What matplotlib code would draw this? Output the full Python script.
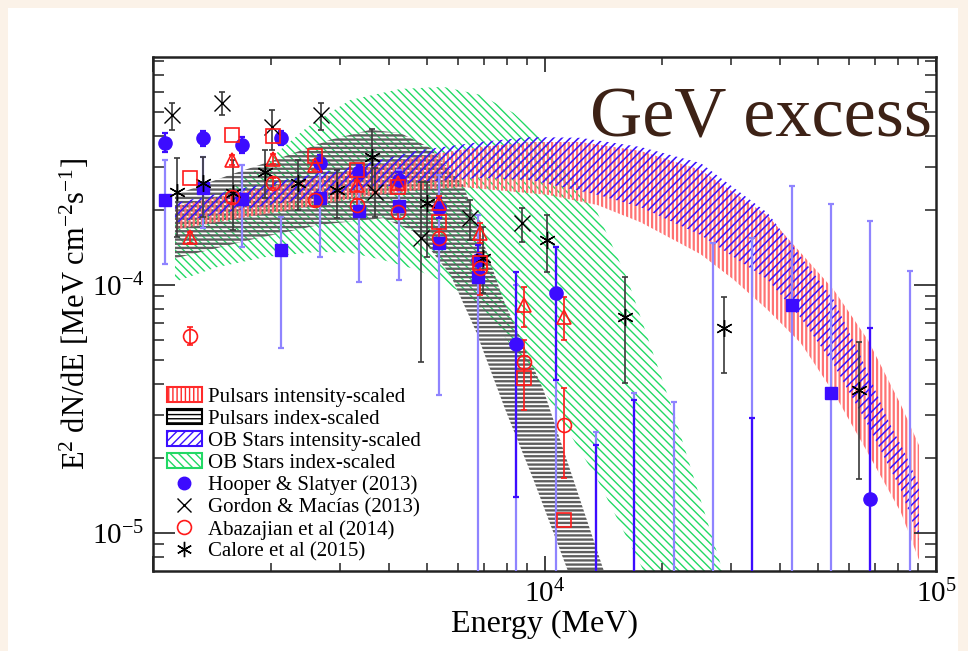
import numpy as np
import matplotlib
matplotlib.use("Agg")
import matplotlib.pyplot as plt
import matplotlib.patches as mpatches
from matplotlib.lines import Line2D
from matplotlib.ticker import FixedLocator, FixedFormatter, LogLocator, NullFormatter

plt.rcParams['font.family'] = ['Liberation Serif', 'DejaVu Serif']
plt.rcParams['mathtext.fontset'] = 'custom'
plt.rcParams['mathtext.rm'] = 'Liberation Serif'
plt.rcParams['mathtext.it'] = 'Liberation Serif:italic'
plt.rcParams['mathtext.bf'] = 'Liberation Serif:bold'

# ---------------- model bands (energy in MeV, E^2 dN/dE in MeV cm^-2 s^-1) ----------------
ob_index_up_E = [1138, 1441, 1878, 2477, 3190, 4282, 5516, 6860, 8332, 9596, 11450, 13660, 16310, 21380, 28520, 31720]
ob_index_up_F = [1.91e-4, 2.24e-4, 2.99e-4, 4.33e-4, 5.57e-4, 6.17e-4, 6.29e-4, 5.84e-4, 4.94e-4, 4.03e-4, 2.91e-4, 1.95e-4, 1.05e-4, 3.05e-5, 7.03e-6, 3.71e-6]
ob_index_lo_E = [1138, 1458, 1957, 2627, 3190, 3874, 4734, 5582, 6860, 9596, 13660, 17920, 19800]
ob_index_lo_F = [1.03e-4, 1.18e-4, 1.30e-4, 1.36e-4, 1.35e-4, 1.26e-4, 1.15e-4, 1.02e-4, 8.31e-5, 4.14e-5, 1.64e-5, 7.03e-6, 4.9e-6]

psr_index_up_E = [1138, 1573, 2113, 2836, 3589, 4282, 5109, 6205, 7856, 9940, 14150, 15640]
psr_index_up_F = [2.31e-4, 2.78e-4, 3.25e-4, 3.85e-4, 4.22e-4, 4.10e-4, 3.57e-4, 2.53e-4, 8.70e-5, 3.77e-5, 7.1e-6, 4.46e-6]
psr_index_lo_E = [1138, 1771, 2674, 3874, 4734, 5749, 6660, 7950, 9374, 11450, 12360]
psr_index_lo_F = [1.28e-4, 1.52e-4, 1.75e-4, 1.86e-4, 1.62e-4, 1.10e-4, 6.59e-5, 3.13e-5, 1.64e-5, 7.1e-6, 4.46e-6]

ob_int_up_E = [1138, 1669, 2377, 3383, 4819, 6860, 9209, 12360, 17600, 25060, 37180, 54840, 64310, 75380, 83800, 90490]
ob_int_up_F = [2.14e-4, 2.44e-4, 2.73e-4, 3.05e-4, 3.50e-4, 3.77e-4, 3.95e-4, 3.92e-4, 3.60e-4, 3.10e-4, 1.95e-4, 8.70e-5, 5.13e-5, 2.86e-5, 2.06e-5, 1.56e-5]
ob_int_lo_E = [1138, 1669, 2377, 3383, 4819, 6860, 9209, 13660, 17600, 25060, 37180, 45150, 54840, 67010, 81390, 90490]
ob_int_lo_F = [1.78e-4, 2.01e-4, 2.20e-4, 2.42e-4, 2.60e-4, 2.70e-4, 2.65e-4, 2.31e-4, 2.06e-4, 1.59e-4, 1.05e-4, 7.36e-5, 4.76e-5, 2.72e-5, 1.49e-5, 9.37e-6]

psr_int_up_E = [1138, 1669, 2377, 3383, 4819, 6860, 9209, 12360, 17600, 25060, 37180, 54840, 67010, 81390, 90490]
psr_int_up_F = [2.08e-4, 2.37e-4, 2.63e-4, 2.94e-4, 3.31e-4, 3.60e-4, 3.77e-4, 3.77e-4, 3.47e-4, 2.91e-4, 1.90e-4, 9.55e-5, 6.0e-5, 3.28e-5, 2.26e-5]
psr_int_lo_E = [1138, 1669, 2377, 3383, 4819, 6205, 10178, 13660, 17600, 25060, 30440, 37180, 45150, 54840, 67010, 81390, 90490]
psr_int_lo_F = [1.67e-4, 1.86e-4, 2.04e-4, 2.26e-4, 2.42e-4, 2.48e-4, 2.31e-4, 2.10e-4, 1.79e-4, 1.33e-4, 1.05e-4, 7.93e-5, 5.83e-5, 3.67e-5, 2.10e-5, 1.21e-5, 7.78e-6]

# ---------------- measurements ----------------
# Hooper & Slatyer (2013): filled circles
hs_circ_E = [1070, 1340, 1690, 2120, 2670, 3350, 4240, 5380, 6780, 8480, 10700, 13500, 16900, 33800, 67800]
hs_circ_F = [3.74e-4, 3.92e-4, 3.67e-4, 3.92e-4, 3.10e-4, 2.85e-4, 2.65e-4, 2.04e-4, 1.26e-4, 5.78e-5, 9.29e-5, 5.0e-6, 5.0e-6, 5.0e-6, 1.37e-5]
hs_circ_lo = [3.44e-4, 3.64e-4, 3.41e-4, 3.67e-4, 2.85e-4, 2.53e-4, 2.42e-4, 1.86e-4, 1.08e-4, 1.40e-5, 4.14e-5, 1e-7, 1e-7, 1e-7, 1e-7]
hs_circ_hi = [4.10e-4, 4.18e-4, 3.95e-4, 4.18e-4, 3.34e-4, 3.05e-4, 2.85e-4, 2.24e-4, 1.45e-4, 1.13e-4, 1.42e-4, 2.26e-5, 3.44e-5, 2.91e-5, 6.71e-5]
# Hooper & Slatyer (2013): filled squares
hs_sq_E = [1070, 1340, 1690, 2120, 2670, 3350, 4240, 5380, 6780, 8480, 10700, 13500, 16900, 21400, 27000, 33800, 42800, 53900, 67800, 85800]
hs_sq_F = [2.20e-4, 2.46e-4, 2.22e-4, 1.38e-4, 2.24e-4, 1.99e-4, 2.08e-4, 1.48e-4, 1.08e-4, 5.0e-6, 5.0e-6, 5.0e-6, 5.0e-6, 5.0e-6, 5.0e-6, 5.0e-6, 8.31e-5, 3.67e-5, 5.0e-6, 5.0e-6]
hs_sq_lo = [1.21e-4, 1.70e-4, 1.42e-4, 5.57e-5, 1.30e-4, 1.03e-4, 1.05e-4, 3.60e-5, 1e-7, 1e-7, 1e-7, 1e-7, 1e-7, 1e-7, 1e-7, 1e-7, 1e-7, 1e-7, 1e-7, 1e-7]
hs_sq_hi = [3.19e-4, 3.28e-4, 3.05e-4, 1.88e-4, 3.19e-4, 2.85e-4, 2.91e-4, 2.78e-4, 1.91e-4, 1.0e-4, 1.42e-4, 2.55e-5, 3.67e-5, 3.38e-5, 1.48e-4, 1.55e-4, 2.51e-4, 2.12e-4, 1.81e-4, 1.14e-4]

# Gordon & Macias (2013)
gm_E = [1118, 1501, 2015, 2690, 3697, 4846, 6468, 8736]
gm_F = [4.85e-4, 5.42e-4, 4.33e-4, 4.85e-4, 2.37e-4, 1.55e-4, 1.86e-4, 1.78e-4]
gm_lo = [4.22e-4, 4.85e-4, 3.50e-4, 4.22e-4, 1.88e-4, 4.89e-5, 1.52e-4, 1.49e-4]
gm_hi = [5.42e-4, 6.00e-4, 5.08e-4, 5.42e-4, 2.96e-4, 2.60e-4, 2.20e-4, 2.04e-4]

# Abazajian et al (2014): three model variants
ab_E = [1243, 1592, 2027, 2596, 3325, 4233, 5389, 6860, 8840, 11183]
ab_sq_F = [2.70e-4, 4.03e-4, 3.99e-4, 3.31e-4, 2.91e-4, 2.48e-4, 1.79e-4, 1.23e-4, 4.22e-5, 1.13e-5]
ab_tri_F = [1.56e-4, 3.19e-4, 3.22e-4, 3.05e-4, 2.53e-4, 2.58e-4, 2.14e-4, 1.62e-4, 8.31e-5, 7.43e-5]
ab_tri_lo = [1.48e-4, 3.05e-4, 3.08e-4, 2.90e-4, 2.40e-4, 2.45e-4, 2.00e-4, 1.48e-4, 6.77e-5, 6.00e-5]
ab_tri_hi = [1.64e-4, 3.35e-4, 3.36e-4, 3.20e-4, 2.66e-4, 2.72e-4, 2.28e-4, 1.78e-4, 9.82e-5, 8.94e-5]
ab_circ_F = [6.23e-5, 2.26e-4, 2.58e-4, 2.20e-4, 2.10e-4, 1.97e-4, 1.55e-4, 1.17e-4, 4.89e-5, 2.72e-5]
ab_circ_lo = [5.73e-5, 2.14e-4, 2.45e-4, 2.08e-4, 1.98e-4, 1.85e-4, 1.42e-4, 9.11e-5, 3.13e-5, 1.67e-5]
ab_circ_hi = [6.77e-5, 2.38e-4, 2.71e-4, 2.32e-4, 2.22e-4, 2.09e-4, 1.68e-4, 1.35e-4, 6.00e-5, 3.85e-5]

# Calore et al (2015)
ca_E = [1152, 1342, 1602, 1934, 2349, 2955, 3632, 5021, 6982, 10178, 16022, 28700, 63560]
ca_F = [2.37e-4, 2.58e-4, 2.35e-4, 2.85e-4, 2.58e-4, 2.42e-4, 3.28e-4, 2.14e-4, 1.28e-4, 1.52e-4, 7.43e-5, 6.71e-5, 3.77e-5]
ca_lo = [1.56e-4, 1.88e-4, 1.67e-4, 2.24e-4, 2.01e-4, 1.86e-4, 2.42e-4, 1.30e-4, 9.29e-5, 1.13e-4, 4.03e-5, 4.42e-5, 1.65e-5]
ca_hi = [3.25e-4, 3.28e-4, 3.19e-4, 3.50e-4, 3.19e-4, 2.91e-4, 4.26e-4, 2.60e-4, 1.71e-4, 1.91e-4, 1.08e-4, 8.94e-5, 5.89e-5]

band_labels = ["Pulsars intensity-scaled", "Pulsars index-scaled",
               "OB Stars intensity-scaled", "OB Stars index-scaled"]
data_labels = ["Hooper & Slatyer (2013)", "Gordon & Macías (2013)",
               "Abazajian et al (2014)", "Calore et al (2015)"]

C_RED = "#ff7373"
C_RED_EDGE = "#ff2a2a"
C_BLACK = "#5e5e5e"
C_BLUE = "#3a10ff"
C_GREEN = "#22d965"
C_HS = "#3c0cff"
C_HS_LIGHT = "#8f84ff"
C_AB = "#ff1a1a"
C_GREY = "#3a3a3a"

fig = plt.figure(figsize=(9.68, 6.51), dpi=100, facecolor="#fbf2e8")
# white panel behind the chart
panel = mpatches.Rectangle((8 / 968, 0), 950 / 968, 643 / 651,
                           transform=fig.transFigure, facecolor="white",
                           edgecolor="none", zorder=-10)
fig.add_artist(panel)
ax = fig.add_axes([153 / 968, 80 / 651, 783 / 968, 514 / 651])
ax.set_zorder(1)
ax.set_facecolor("none")
ax.set_xscale("log")
ax.set_yscale("log")
ax.set_xlim(1e3, 1e5)
ax.set_ylim(7.03e-6, 8.3e-4)


def band(up_E, up_F, lo_E, lo_F, color, hatch, hlw, z):
    xs = list(up_E) + list(lo_E)[::-1]
    ys = list(up_F) + list(lo_F)[::-1]
    plt.rcParams['hatch.linewidth'] = hlw
    p = ax.fill(xs, ys, facecolor="none", edgecolor=color, linewidth=0,
                hatch=hatch, zorder=z)[0]
    if hasattr(p, "set_hatch_linewidth"):
        p.set_hatch_linewidth(hlw)
    return p


band(ob_index_up_E, ob_index_up_F, ob_index_lo_E, ob_index_lo_F, C_GREEN, "\\\\\\\\", 1.0, 1)
band(psr_index_up_E, psr_index_up_F, psr_index_lo_E, psr_index_lo_F, C_BLACK, "----", 1.7, 1.1)
band(psr_int_up_E, psr_int_up_F, psr_int_lo_E, psr_int_lo_F, C_RED, "||||", 1.6, 1.2)
band(ob_int_up_E, ob_int_up_F, ob_int_lo_E, ob_int_lo_F, C_BLUE, "////", 1.15, 1.3)


def yerr(F, lo, hi):
    F = np.asarray(F)
    return [F - np.asarray(lo), np.asarray(hi) - F]


# error bars
ax.errorbar(hs_sq_E, hs_sq_F, yerr=yerr(hs_sq_F, hs_sq_lo, hs_sq_hi), fmt="none",
            ecolor=C_HS_LIGHT, elinewidth=1.6, capsize=2, capthick=1.6, zorder=3)
ax.errorbar(hs_circ_E, hs_circ_F, yerr=yerr(hs_circ_F, hs_circ_lo, hs_circ_hi), fmt="none",
            ecolor=C_HS, elinewidth=1.6, capsize=2, capthick=1.6, zorder=3.1)
ax.errorbar(gm_E, gm_F, yerr=yerr(gm_F, gm_lo, gm_hi), fmt="none",
            ecolor=C_GREY, elinewidth=1.2, capsize=2.5, capthick=1.2, zorder=3)
ax.errorbar(ca_E, ca_F, yerr=yerr(ca_F, ca_lo, ca_hi), fmt="none",
            ecolor=C_GREY, elinewidth=1.2, capsize=2.5, capthick=1.2, zorder=3)
ax.errorbar(ab_E, ab_tri_F, yerr=yerr(ab_tri_F, ab_tri_lo, ab_tri_hi), fmt="none",
            ecolor=C_AB, elinewidth=1.2, capsize=2.5, capthick=1.2, zorder=3.2)
ax.errorbar(ab_E, ab_circ_F, yerr=yerr(ab_circ_F, ab_circ_lo, ab_circ_hi), fmt="none",
            ecolor=C_AB, elinewidth=1.2, capsize=2.5, capthick=1.2, zorder=3.2)

# markers
ax.plot(hs_sq_E, hs_sq_F, ls="none", marker="s", ms=9, mfc=C_HS, mec=C_HS, zorder=4)
ax.plot(hs_circ_E, hs_circ_F, ls="none", marker="o", ms=9.5, mfc=C_HS, mec=C_HS, zorder=4)
ax.plot(ab_E, ab_sq_F, ls="none", marker="s", ms=9.5, mfc="none", mec=C_AB, mew=1.2, zorder=4.2)
ax.plot(ab_E, ab_tri_F, ls="none", marker="^", ms=10, mfc="none", mec=C_AB, mew=1.2, zorder=4.2)
ax.plot(ab_E, ab_circ_F, ls="none", marker="o", ms=10, mfc="none", mec=C_AB, mew=1.2, zorder=4.2)
ax.plot(gm_E, gm_F, ls="none", marker="x", ms=11, mec="black", mew=1.0, zorder=4.1)
ax.plot(ca_E, ca_F, ls="none", marker=(6, 2, 0), ms=12, mec="black", mew=1.0, zorder=4.1)

# axes styling
for s in ax.spines.values():
    s.set_linewidth(1.8)
    s.set_color("#222222")
ax.xaxis.set_major_locator(FixedLocator([1e3, 1e4, 1e5]))
ax.xaxis.set_major_formatter(FixedFormatter(["", r"$10^{4}$", r"$10^{5}$"]))
ax.xaxis.set_minor_locator(LogLocator(base=10, subs=np.arange(2, 10)))
ax.xaxis.set_minor_formatter(NullFormatter())
ax.yaxis.set_major_locator(FixedLocator([1e-5, 1e-4]))
ax.yaxis.set_major_formatter(FixedFormatter([r"$10^{-5}$", r"$10^{-4}$"]))
ax.yaxis.set_minor_locator(LogLocator(base=10, subs=np.arange(2, 10)))
ax.yaxis.set_minor_formatter(NullFormatter())
ax.tick_params(axis="both", which="both", direction="in", top=True, right=True,
               colors="#333333", labelcolor="black", labelsize=21)
ax.tick_params(axis="x", which="major", length=11, width=1.3, pad=6)
ax.tick_params(axis="x", which="minor", length=6, width=1.2)
ax.tick_params(axis="y", which="major", length=16, width=1.3, pad=6)
ax.tick_params(axis="y", which="minor", length=8, width=1.2)

ax.set_xlabel("Energy (MeV)", fontsize=23)
ax.xaxis.set_label_coords(0.5, -0.075)
ax.set_ylabel(r"E$^{2}$ dN/dE [MeV cm$^{-2}$s$^{-1}$]", fontsize=22)
ax.yaxis.set_label_coords(-0.078, 0.5)

ax.text(0.995, 0.845, "GeV excess", transform=ax.transAxes, ha="right", va="baseline",
        fontsize=52, color="#3d2216", zorder=6)

# legend
plt.rcParams['hatch.linewidth'] = 1.0
handles = [
    mpatches.Patch(facecolor="white", edgecolor=C_RED_EDGE, hatch="||||", linewidth=1.5),
    mpatches.Patch(facecolor="white", edgecolor="black", hatch="----", linewidth=1.5),
    mpatches.Patch(facecolor="white", edgecolor=C_BLUE, hatch="////", linewidth=1.5),
    mpatches.Patch(facecolor="white", edgecolor=C_GREEN, hatch="\\\\\\\\", linewidth=1.5),
    Line2D([], [], ls="none", marker="o", ms=9, mfc=C_HS, mec=C_HS),
    Line2D([], [], ls="none", marker="x", ms=10, mec="black", mew=1.0),
    Line2D([], [], ls="none", marker="o", ms=10, mfc="none", mec=C_AB, mew=1.2),
    Line2D([], [], ls="none", marker=(6, 2, 0), ms=11, mec="black", mew=1.0),
]
leg = ax.legend(handles, band_labels + data_labels, loc="lower left",
                bbox_to_anchor=(0.012, 0.01), frameon=False, fontsize=15,
                handlelength=1.7, handleheight=0.7, handletextpad=0.3,
                labelspacing=0.12, borderpad=0.2, borderaxespad=0.0)
leg.set_zorder(7)

fig.savefig("out.png", dpi=100, facecolor=fig.get_facecolor())
